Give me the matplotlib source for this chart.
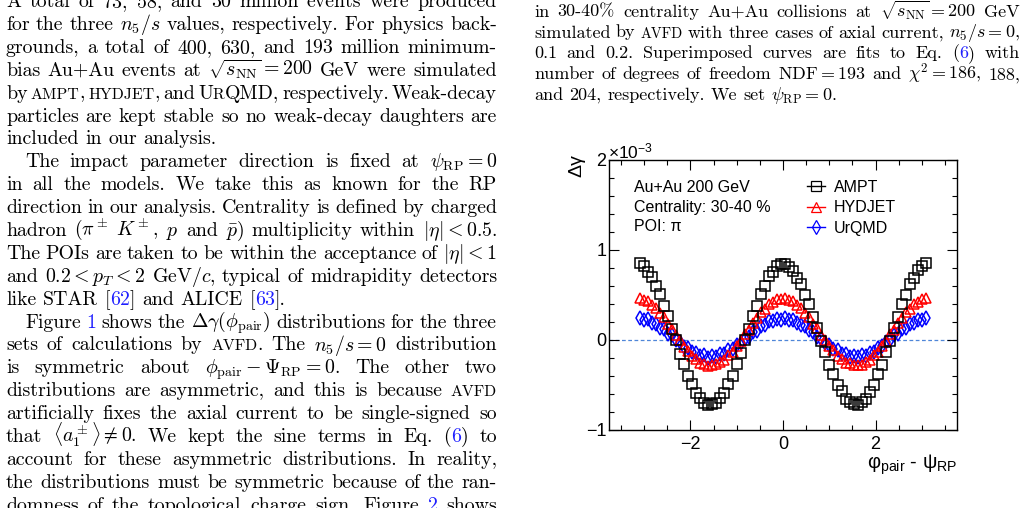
import re
import numpy as np
import matplotlib
matplotlib.use("Agg")
import matplotlib.pyplot as plt
from matplotlib.transforms import IdentityTransform
from matplotlib.lines import Line2D
from matplotlib.ticker import MultipleLocator, FixedLocator

plt.rcParams['font.family'] = ['Liberation Sans', 'DejaVu Sans']
plt.rcParams['mathtext.fontset'] = 'cm'
plt.rcParams['mathtext.rm'] = 'Liberation Sans'
plt.rcParams['mathtext.it'] = 'Liberation Sans:italic'
plt.rcParams['mathtext.bf'] = 'Liberation Sans:bold'
plt.rcParams['mathtext.sf'] = 'Liberation Sans'

# ---------------- data (units of 1e-3) ----------------
ampt = [0.852, 0.821, 0.760, 0.705, 0.603, 0.515, 0.383, 0.270, 0.120, -0.002,
        -0.150, -0.262, -0.395, -0.485, -0.588, -0.640, -0.701, -0.724, -0.712, -0.698,
        -0.641, -0.585, -0.484, -0.395, -0.263, -0.149, -0.001, 0.121, 0.270, 0.383,
        0.516, 0.604, 0.706, 0.760, 0.820, 0.846,
        0.841, 0.806, 0.772, 0.692, 0.618, 0.501, 0.397, 0.255, 0.135, -0.015,
        -0.135, -0.277, -0.381, -0.498, -0.572, -0.654, -0.688, -0.708, -0.722, -0.686,
        -0.652, -0.573, -0.497, -0.382, -0.276, -0.136, -0.014, 0.134, 0.256, 0.396,
        0.502, 0.617, 0.693, 0.773, 0.818, 0.858]
hydjet = [0.468, 0.441, 0.431, 0.386, 0.358, 0.296, 0.252, 0.180, 0.127, 0.052,
          -0.001, -0.073, -0.117, -0.178, -0.208, -0.251, -0.262, -0.284, -0.274, -0.272,
          -0.240, -0.219, -0.167, -0.128, -0.062, -0.012, 0.063, 0.116, 0.191, 0.241,
          0.307, 0.346, 0.398, 0.419, 0.452, 0.455,
          0.464, 0.443, 0.430, 0.388, 0.357, 0.297, 0.253, 0.181, 0.128, 0.053,
          0.000, -0.072, -0.116, -0.177, -0.207, -0.250, -0.261, -0.283, -0.275, -0.273,
          -0.241, -0.220, -0.168, -0.129, -0.063, -0.013, 0.062, 0.115, 0.190, 0.240,
          0.306, 0.345, 0.399, 0.418, 0.453, 0.466]
urqmd = [0.245, 0.219, 0.228, 0.186, 0.181, 0.138, 0.125, 0.068, 0.052, -0.004,
         -0.020, -0.075, -0.088, -0.134, -0.139, -0.176, -0.170, -0.195, -0.177, -0.189,
         -0.158, -0.156, -0.115, -0.105, -0.056, -0.038, 0.016, 0.034, 0.088, 0.105,
         0.155, 0.164, 0.206, 0.206, 0.237, 0.226,
         0.241, 0.222, 0.224, 0.188, 0.165, 0.154, 0.106, 0.087, 0.035, 0.015,
         -0.037, -0.056, -0.104, -0.115, -0.155, -0.158, -0.186, -0.176, -0.191, -0.170,
         -0.173, -0.139, -0.131, -0.088, -0.072, -0.021, -0.001, 0.051, 0.071, 0.122,
         0.138, 0.181, 0.189, 0.223, 0.220, 0.242]
series_names = ["AMPT", "HYDJET", "UrQMD"]
info_lines = ["Au+Au 200 GeV", "Centrality: 30-40 %", "POI: π"]
y_ticks = [-1, 0, 1, 2]
x_ticks = [-2, 0, 2]

left_lines = [
    r"A total of 73, 58, and 30 million events were produced",
    r"for the three $n_5/s$ values, respectively. For physics back-",
    r"grounds, a total of 400, 630, and 193 million minimum-",
    r"bias Au+Au events at $\sqrt{s_\mathrm{NN}}=200$ GeV were simulated",
    r"by §sAMPT§, §sHYDJET§, and U§sR§QMD, respectively. Weak-decay",
    r"particles are kept stable so no weak-decay daughters are",
    r"included in our analysis.",
    r"The impact parameter direction is fixed at $\psi_\mathrm{RP}=0$",
    r"in all the models. We take this as known for the RP",
    r"direction in our analysis. Centrality is defined by charged",
    r"hadron ($\pi^\pm$ $K^\pm$, $p$ and $\bar{p}$) multiplicity within $|\eta|<0.5$.",
    r"The POIs are taken to be within the acceptance of $|\eta|<1$",
    r"and $0.2<p_T<2$ GeV/$c$, typical of midrapidity detectors",
    r"like STAR [§b62§] and ALICE [§b63§].",
    r"Figure §b1§ shows the $\Delta\gamma(\phi_\mathrm{pair})$ distributions for the three",
    r"sets of calculations by §sAVFD§. The $n_5/s=0$ distribution",
    r"is symmetric about $\phi_\mathrm{pair}-\Psi_\mathrm{RP}=0$. The other two",
    r"distributions are asymmetric, and this is because §sAVFD§",
    r"artificially fixes the axial current to be single-signed so",
    r"that $\langle{a_1^\pm}\rangle\neq0$. We kept the sine terms in Eq. (§b6§) to",
    r"account for these asymmetric distributions. In reality,",
    r"the distributions must be symmetric because of the ran-",
    r"domness of the topological charge sign. Figure §b2§ shows",
]
left_indent = {7, 14}
left_ragged = {6, 13}

caption_lines = [
    r"in 30-40% centrality Au+Au collisions at $\sqrt{s_\mathrm{NN}}=200$ GeV",
    r"simulated by §sAVFD§ with three cases of axial current, $n_5/s=0$,",
    r"0.1 and 0.2. Superimposed curves are fits to Eq. (§b6§) with",
    r"number of degrees of freedom $\mathrm{NDF}=193$ and $\chi^2=186$, 188,",
    r"and 204, respectively. We set $\psi_\mathrm{RP}=0$.",
]
caption_ragged = {4}

# ---------------- figure ----------------
W, H = 1028, 508
fig = plt.figure(figsize=(W / 100, H / 100), dpi=100)
fig.patch.set_facecolor("white")
R = fig.canvas.get_renderer()
LINK = "#1f1fff"
ID = IdentityTransform()


def parse_word(w):
    segs, pos = [], 0
    for m in re.finditer(r"§([sb])([^§]*)§", w):
        if m.start() > pos:
            segs.append((w[pos:m.start()], "black", 1.0))
        if m.group(1) == "s":
            segs.append((m.group(2), "black", 0.8))
        else:
            segs.append((m.group(2), LINK, 1.0))
        pos = m.end()
    if pos < len(w):
        segs.append((w[pos:], "black", 1.0))
    return segs


def place_line(line, x0, x1, ybase, size, justify=True):
    words = [parse_word(w) for w in line.split(" ")]
    rows, widths = [], []
    for segs in words:
        row, tot = [], 0.0
        for s, col, sc in segs:
            t = fig.text(0, H - ybase, s, transform=ID, fontsize=size * sc,
                         family="cmr10", color=col, va="baseline", ha="left",
                         math_fontfamily="cm")
            w = t.get_window_extent(renderer=R).width
            row.append((t, w))
            tot += w
        rows.append(row)
        widths.append(tot)
    n = len(words)
    natural = size * 100 / 72 * 0.333
    if justify and n > 1:
        gap = max((x1 - x0 - sum(widths)) / (n - 1), 2.5)
    else:
        gap = natural
    x = x0
    for row, wsum in zip(rows, widths):
        xx = x
        for t, w in row:
            t.set_x(xx)
            xx += w
        x += wsum + gap


BODY = 14.3
for k, line in enumerate(left_lines):
    x0 = 6 + (19 if k in left_indent else 0)
    place_line(line, x0, 497, 7 + 22.9 * k, BODY, justify=k not in left_ragged)

for k, line in enumerate(caption_lines):
    place_line(line, 534, 1020, 16.7 + 20.8 * k, 13.0,
               justify=k not in caption_ragged)

# ---------------- chart ----------------
ax = fig.add_axes([609 / W, 1 - 430 / H, 348 / W, 270 / H])
edges = np.linspace(-np.pi, np.pi, len(ampt) + 1)
phi = 0.5 * (edges[1:] + edges[:-1])

ax.axhline(0, color="#4f86d8", lw=0.9, ls=(0, (3, 2)), zorder=1)
styles = [
    (ampt, "black", "s", 6.5, 4),
    (hydjet, "red", "^", 7.0, 3),
    (urqmd, "blue", "d", 7.0, 2),
]
handles = []
for (vals, col, mk, ms, z), name in zip(styles, series_names):
    ax.plot(phi, vals, ls="none", marker=mk, ms=ms, mfc="none", mec=col,
            mew=1.1, zorder=z)
    handles.append(Line2D([], [], color=col, lw=1.0, marker=mk, ms=ms,
                          mfc="none", mec=col, mew=0.9, label=name))

ax.set_xlim(-3.76, 3.76)
ax.set_ylim(-1, 2)
ax.xaxis.set_major_locator(FixedLocator(x_ticks))
ax.xaxis.set_minor_locator(MultipleLocator(0.5))
ax.yaxis.set_major_locator(FixedLocator(y_ticks))
ax.yaxis.set_minor_locator(MultipleLocator(0.2))
ax.tick_params(which="both", direction="in", top=True, right=True, width=0.8,
               labelsize=13, colors="black")
ax.tick_params(which="major", length=7)
ax.tick_params(which="minor", length=3.5)
ax.tick_params(axis="y", pad=2)
ax.tick_params(axis="x", pad=4)
for sp in ax.spines.values():
    sp.set_linewidth(1.0)

leg = ax.legend(handles=handles, loc="upper left",
                bbox_to_anchor=((807 - 609) / 348, (430 - 180) / 270),
                frameon=False, fontsize=11.5, handlelength=1.15,
                handletextpad=0.55, labelspacing=0.33, borderpad=0,
                borderaxespad=0)

for k, s in enumerate(info_lines):
    fig.text(634, H - (192 + 19.7 * k), s, transform=ID, fontsize=11.5,
             va="baseline", ha="left")

fig.text(577, H - 166, "Δγ", transform=ID, fontsize=14, rotation=90,
         ha="center", va="center")
fig.text(608, H - 158, r"×10$^{-3}$", transform=ID, fontsize=12.5,
         ha="left", va="baseline", math_fontfamily="custom")
fig.text(958, H - 469, r"φ$_{\mathrm{pair}}$ - ψ$_{\mathrm{RP}}$", transform=ID,
         fontsize=14.5, ha="right", va="baseline", math_fontfamily="custom")

fig.savefig("out.png", dpi=100, facecolor="white")
